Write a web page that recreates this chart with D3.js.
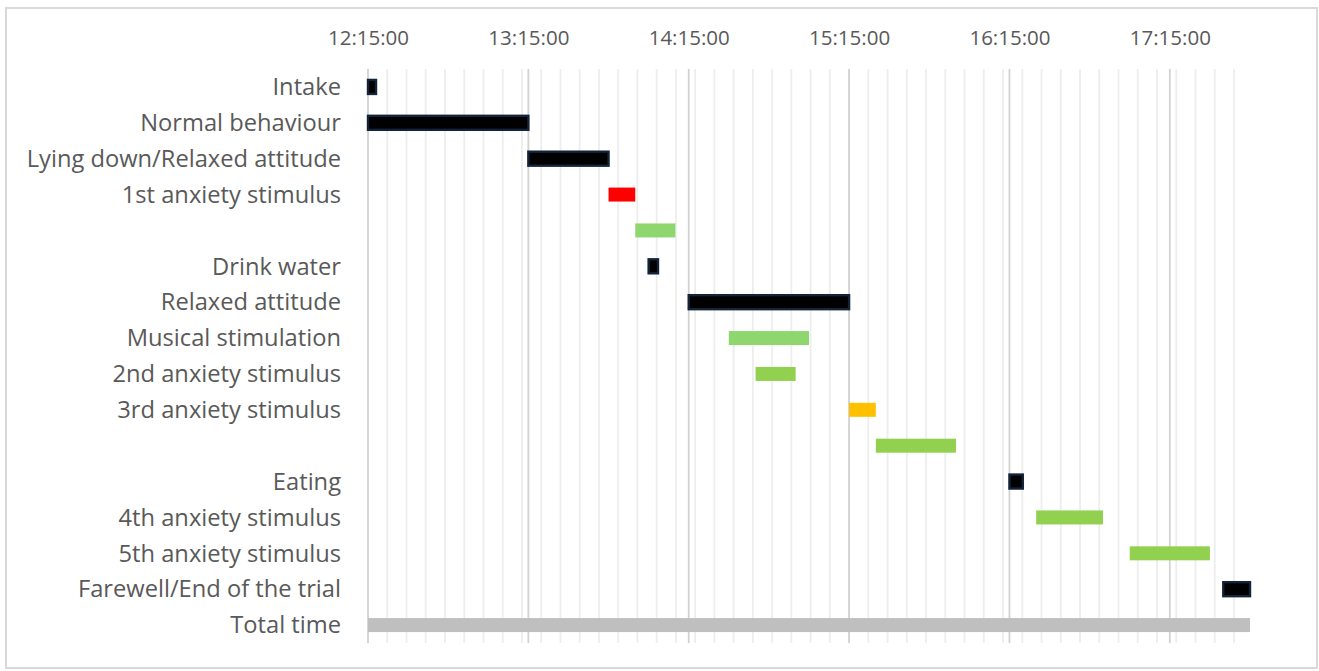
<!DOCTYPE html>
<html>
<head>
<meta charset="utf-8">
<script src="https://cdn.jsdelivr.net/npm/d3@7"></script>
<style>
  body { margin: 0; background: #fff; }
  #chart-area text { font-family: "Open Sans", "Noto Sans", sans-serif; fill: #595959; }
</style>
</head>
<body>
<div id="chart-area"></div>
<script>
// Activities (rows top to bottom), empty strings are the unlabeled rows
const activities = [
  "Intake", "Normal behaviour", "Lying down/Relaxed attitude", "1st anxiety stimulus",
  "", "Drink water", "Relaxed attitude", "Musical stimulation",
  "2nd anxiety stimulus", "3rd anxiety stimulus", "", "Eating",
  "4th anxiety stimulus", "5th anxiety stimulus", "Farewell/End of the trial", "Total time"
];
const startTimes = [
  "12:15:00", "12:15:00", "13:15:00", "13:45:00",
  "13:55:00", "14:00:00", "14:15:00", "14:30:00",
  "14:40:00", "15:15:00", "15:25:00", "16:15:00",
  "16:25:00", "17:00:00", "17:35:00", "12:15:00"
];
const endTimes = [
  "12:18:00", "13:15:00", "13:45:00", "13:55:00",
  "14:10:00", "14:03:30", "15:15:00", "15:00:00",
  "14:55:00", "15:25:00", "15:55:00", "16:20:00",
  "16:50:00", "17:30:00", "17:45:00", "17:45:00"
];
// bar kind per row: rest = black, stim = red/orange/green, total = grey
const barKinds = [
  "black", "black", "black", "red",
  "lightgreen", "black", "black", "lightgreen",
  "green", "orange", "green", "black",
  "green", "green", "black", "grey"
];
const tickLabels = ["12:15:00", "13:15:00", "14:15:00", "15:15:00", "16:15:00", "17:15:00"];
const axisStart = "12:15:00";
const axisEnd = "17:45:00";

const kindColors = {
  black: "#000000",
  red: "#ff0000",
  orange: "#ffc000",
  green: "#92d050",
  lightgreen: "#8ed66e",
  grey: "#bfbfbf"
};

class GanttVis {
  constructor(_parentElement) {
    this.parentElement = _parentElement;
    this.initVis();
  }

  initVis() {
    let vis = this;

    vis.W = 1319;
    vis.H = 671;
    vis.margin = { top: 69, right: 69, bottom: 28, left: 368 };
    vis.width = vis.W - vis.margin.left - vis.margin.right;
    vis.height = vis.H - vis.margin.top - vis.margin.bottom;

    vis.parseTime = d3.timeParse("%H:%M:%S");

    vis.svg = d3.select("#" + vis.parentElement)
      .append("svg")
      .attr("width", vis.W)
      .attr("height", vis.H);

    // outer frame
    vis.svg.append("rect")
      .attr("x", 6).attr("y", 8)
      .attr("width", 1311).attr("height", 660)
      .attr("fill", "none")
      .attr("stroke", "#d9d9d9")
      .attr("stroke-width", 2);

    vis.g = vis.svg.append("g")
      .attr("transform", "translate(" + vis.margin.left + "," + vis.margin.top + ")");

    vis.x = d3.scaleTime()
      .domain([vis.parseTime(axisStart), vis.parseTime(axisEnd)])
      .range([0, vis.width]);

    vis.y = d3.scaleBand()
      .domain(d3.range(activities.length))
      .range([0, vis.height])
      .paddingInner(0.61)
      .paddingOuter(0.305);

    vis.wrangleData();
  }

  wrangleData() {
    let vis = this;
    vis.displayData = activities.map((a, i) => ({
      label: a,
      index: i,
      start: vis.parseTime(startTimes[i]),
      end: vis.parseTime(endTimes[i]),
      kind: barKinds[i]
    }));
    vis.updateVis();
  }

  updateVis() {
    let vis = this;
    let t0 = vis.parseTime(axisStart);
    let t1 = vis.parseTime(axisEnd);

    // minor gridlines every 0.005 day (7.2 min), like the spreadsheet axis
    let minorStep = 0.005 * 24 * 3600 * 1000;
    let minorTicks = d3.range(t0.getTime(), t1.getTime(), minorStep).map((t) => new Date(t));
    let majorTicks = tickLabels.map((s) => vis.parseTime(s));

    vis.g.selectAll(".minor-grid")
      .data(minorTicks)
      .enter()
      .append("line")
      .attr("class", "minor-grid")
      .attr("x1", (d) => vis.x(d)).attr("x2", (d) => vis.x(d))
      .attr("y1", 0).attr("y2", vis.height)
      .attr("stroke", "#ededed")
      .attr("stroke-width", 1.8);

    vis.g.selectAll(".major-grid")
      .data(majorTicks)
      .enter()
      .append("line")
      .attr("class", "major-grid")
      .attr("x1", (d) => vis.x(d)).attr("x2", (d) => vis.x(d))
      .attr("y1", 0).attr("y2", vis.height)
      .attr("stroke", "#d2d2d2")
      .attr("stroke-width", 1.8);

    // top axis labels
    vis.xAxis = d3.axisTop(vis.x)
      .tickValues(majorTicks)
      .tickFormat(d3.timeFormat("%H:%M:%S"))
      .tickSize(0)
      .tickPadding(24);

    vis.g.append("g")
      .attr("class", "x-axis")
      .call(vis.xAxis)
      .call((g) => g.select(".domain").remove())
      .selectAll("text")
      .style("font-size", "20.5px");

    // row labels
    vis.g.selectAll(".row-label")
      .data(vis.displayData)
      .enter()
      .append("text")
      .attr("class", "row-label")
      .attr("x", -27)
      .attr("y", (d) => vis.y(d.index) + vis.y.bandwidth() / 2)
      .attr("dy", "0.35em")
      .attr("text-anchor", "end")
      .style("font-size", "23.7px")
      .text((d) => d.label);

    // bars
    vis.g.selectAll(".bar")
      .data(vis.displayData)
      .enter()
      .append("rect")
      .attr("class", "bar")
      .attr("x", (d) => vis.x(d.start))
      .attr("y", (d) => vis.y(d.index))
      .attr("width", (d) => vis.x(d.end) - vis.x(d.start))
      .attr("height", vis.y.bandwidth())
      .attr("fill", (d) => kindColors[d.kind])
      .attr("stroke", (d) => d.kind === "black" ? "#13233a" : "none")
      .attr("stroke-width", (d) => d.kind === "black" ? 2.4 : 0);
  }
}

new GanttVis("chart-area");
</script>
</body>
</html>
